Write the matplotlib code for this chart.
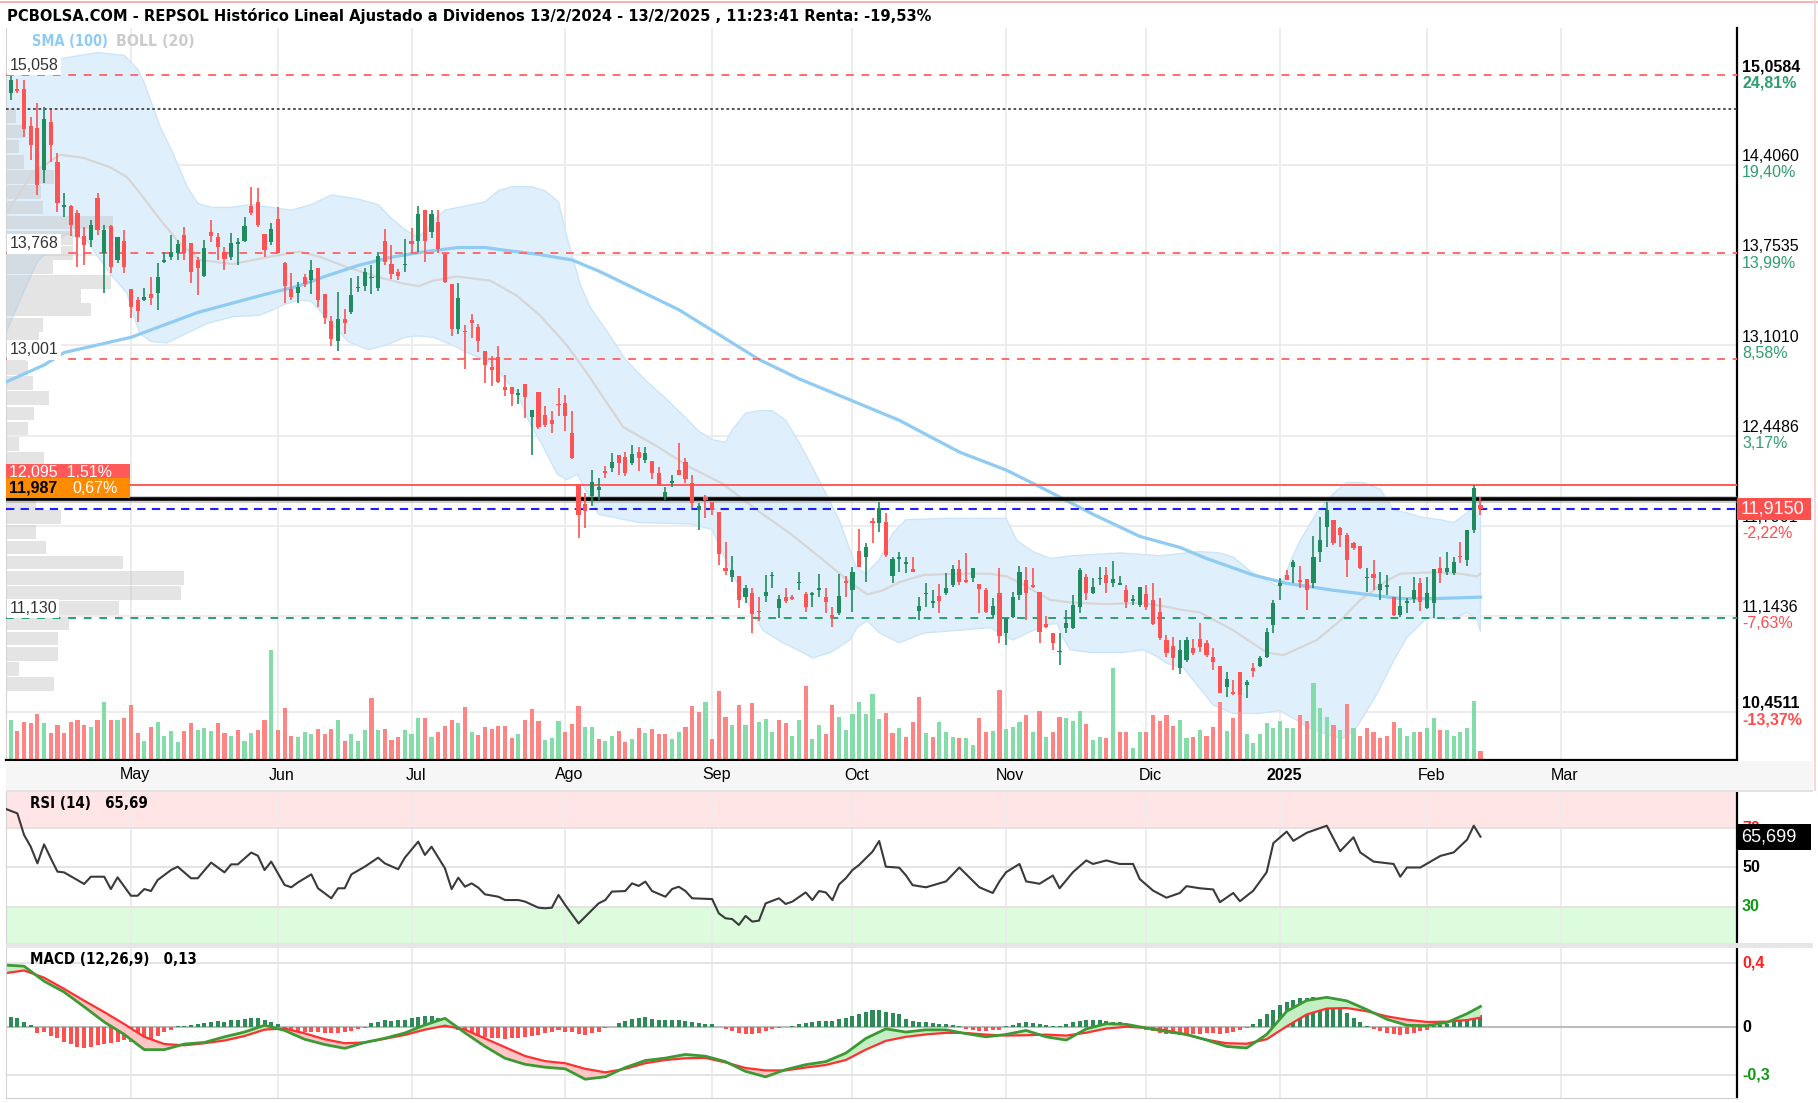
import numpy as np
import pandas as pd
import matplotlib
matplotlib.use("Agg")
import matplotlib.pyplot as plt
from matplotlib.patches import Rectangle
from matplotlib.lines import Line2D
from matplotlib.transforms import blended_transform_factory as blend

# ---------------- DATA ----------------
opens = [14.82, 14.93, 14.96, 14.955, 14.69, 14.672, 14.371, 14.721, 14.431, 14.10,
         14.113, 14.058, 13.894, 13.865, 14.166, 13.768, 13.968, 13.72, 13.857, 13.508,
         13.43, 13.43, 13.471, 13.479, 13.708, 13.739, 13.768, 13.90, 13.845, 13.72,
         13.604, 13.925, 13.889, 13.78, 13.744, 13.836, 13.86, 14.113, 14.137, 13.906,
         13.847, 14.014, 13.696, 13.508, 13.484, 13.593, 13.574, 13.664, 13.476, 13.279,
         13.133, 13.293, 13.344, 13.515, 13.532, 13.588, 13.518, 13.86, 13.692, 13.636,
         13.68, 13.854, 13.854, 14.078, 13.924, 13.994, 13.764, 13.546, 13.223, 13.209,
         13.285, 13.232, 13.063, 12.943, 13.018, 12.802, 12.802, 12.743, 12.822, 12.587,
         12.766, 12.598, 12.564, 12.676, 12.685, 12.466, 12.101, 11.953, 12.01, 12.055,
         12.193, 12.212, 12.309, 12.292, 12.248, 12.333, 12.272, 12.265, 12.176, 12.007,
         12.104, 12.2, 12.258, 12.108, 11.911, 12.007, 11.971, 11.898, 11.488, 11.428,
         11.433, 11.283, 11.308, 11.175, 11.288, 11.43, 11.2, 11.283, 11.283, 11.38,
         11.3, 11.295, 11.33, 11.283, 11.151, 11.163, 11.4, 11.332, 11.614, 11.568,
         11.826, 11.819, 11.826, 11.433, 11.554, 11.52, 11.481, 11.182, 11.3, 11.24,
         11.288, 11.308, 11.368, 11.481, 11.404, 11.416, 11.375, 11.332, 11.151, 11.308,
         11.018, 11.139, 11.296, 11.404, 11.368, 11.32, 11.083, 11.018, 10.88, 11.054,
         11.054, 11.211, 11.423, 11.312, 11.409, 11.44, 11.38, 11.368, 11.332, 11.254,
         11.223, 11.303, 11.259, 11.175, 10.97, 10.926, 10.765, 10.825, 10.914, 10.975,
         10.95, 10.849, 10.782, 10.627, 10.591, 10.74, 10.644, 10.765, 10.782, 10.849,
         11.078, 11.361, 11.44, 11.496, 11.399, 11.409, 11.38, 11.609, 11.79, 11.838,
         11.778, 11.73, 11.669, 11.65, 11.416, 11.45, 11.332, 11.356, 11.283, 11.151,
         11.235, 11.264, 11.385, 11.199, 11.235, 11.488, 11.464, 11.457, 11.578, 11.549,
         11.766, 11.947]
highs = [14.95, 15.05, 15.03, 15.022, 14.757, 14.858, 14.829, 14.805, 14.497, 14.202,
         14.12, 14.082, 13.961, 14.009, 14.202, 13.973, 13.975, 13.889, 13.937, 13.51,
         13.45, 13.515, 13.599, 13.696, 13.78, 13.90, 13.865, 13.961, 13.845, 13.744,
         13.865, 14.009, 13.913, 13.816, 13.913, 13.877, 14.033, 14.25, 14.243, 13.906,
         13.985, 14.106, 13.708, 13.623, 13.56, 13.616, 13.72, 13.664, 13.476, 13.316,
         13.49, 13.363, 13.588, 13.607, 13.658, 13.686, 13.776, 13.944, 13.826, 13.652,
         13.868, 13.952, 14.107, 14.078, 14.078, 14.078, 13.764, 13.546, 13.551, 13.251,
         13.327, 13.26, 13.063, 13.027, 13.097, 12.887, 12.802, 12.789, 12.822, 12.634,
         12.766, 12.662, 12.626, 12.794, 12.746, 12.626, 12.101, 12.031, 12.2, 12.14,
         12.229, 12.321, 12.309, 12.333, 12.381, 12.369, 12.369, 12.265, 12.22, 12.075,
         12.164, 12.398, 12.284, 12.164, 11.959, 12.019, 11.971, 11.898, 11.681, 11.578,
         11.433, 11.368, 11.344, 11.284, 11.44, 11.464, 11.296, 11.344, 11.296, 11.464,
         11.32, 11.32, 11.447, 11.349, 11.206, 11.447, 11.433, 11.5, 11.771, 11.669,
         11.85, 11.971, 11.886, 11.573, 11.609, 11.568, 11.568, 11.283, 11.385, 11.332,
         11.375, 11.452, 11.512, 11.549, 11.597, 11.488, 11.375, 11.344, 11.271, 11.488,
         11.127, 11.32, 11.508, 11.5, 11.488, 11.32, 11.144, 11.018, 11.018, 11.187,
         11.296, 11.488, 11.447, 11.416, 11.5, 11.5, 11.544, 11.433, 11.368, 11.296,
         11.356, 11.368, 11.38, 11.271, 11.006, 10.994, 10.97, 10.994, 10.975, 11.09,
         10.97, 10.91, 10.782, 10.741, 10.68, 10.74, 10.68, 10.801, 10.854, 11.054,
         11.259, 11.416, 11.476, 11.549, 11.505, 11.409, 11.722, 11.862, 11.971, 11.838,
         11.79, 11.742, 11.681, 11.65, 11.489, 11.549, 11.464, 11.44, 11.283, 11.36,
         11.271, 11.428, 11.416, 11.428, 11.481, 11.573, 11.609, 11.573, 11.681, 11.766,
         12.095, 12.007]
lows = [14.80, 14.88, 14.93, 14.61, 14.44, 14.19, 14.275, 14.431, 14.07, 14.033,
        13.894, 13.672, 13.684, 13.816, 13.90, 13.479, 13.623, 13.696, 13.623, 13.298,
        13.274, 13.426, 13.394, 13.358, 13.696, 13.72, 13.72, 13.72, 13.551, 13.467,
        13.599, 13.852, 13.72, 13.648, 13.72, 13.684, 13.852, 14.045, 13.961, 13.744,
        13.828, 13.768, 13.406, 13.43, 13.405, 13.523, 13.476, 13.383, 13.26, 13.097,
        13.063, 13.181, 13.327, 13.49, 13.495, 13.476, 13.495, 13.686, 13.58, 13.574,
        13.63, 13.77, 13.776, 13.708, 13.882, 13.77, 13.551, 13.167, 13.181, 12.929,
        13.153, 13.055, 12.83, 12.81, 12.83, 12.732, 12.662, 12.676, 12.578, 12.312,
        12.494, 12.514, 12.466, 12.592, 12.48, 12.278, 11.709, 11.779, 11.94, 11.983,
        12.14, 12.188, 12.164, 12.157, 12.236, 12.195, 12.248, 12.133, 12.084, 11.983,
        12.075, 12.164, 12.104, 11.923, 11.766, 11.85, 11.874, 11.513, 11.44, 11.392,
        11.199, 11.235, 11.018, 11.11, 11.247, 11.344, 11.127, 11.235, 11.259, 11.332,
        11.175, 11.206, 11.283, 11.163, 11.066, 11.151, 11.283, 11.175, 11.5, 11.392,
        11.669, 11.754, 11.573, 11.38, 11.464, 11.452, 11.464, 11.115, 11.211, 11.2,
        11.163, 11.296, 11.356, 11.368, 11.385, 11.392, 11.163, 11.163, 11.127, 10.946,
        10.934, 11.127, 11.259, 11.115, 11.344, 10.946, 11.054, 10.898, 10.789, 11.018,
        11.047, 11.168, 11.259, 11.303, 11.368, 11.312, 11.356, 11.368, 11.199, 11.223,
        11.211, 11.187, 11.078, 10.97, 10.849, 10.753, 10.724, 10.813, 10.861, 10.886,
        10.849, 10.753, 10.584, 10.56, 10.572, 10.451, 10.548, 10.704, 10.777, 10.837,
        11.018, 11.259, 11.404, 11.38, 11.344, 11.187, 11.344, 11.537, 11.645, 11.657,
        11.645, 11.428, 11.621, 11.481, 11.32, 11.332, 11.259, 11.296, 11.144, 11.134,
        11.168, 11.24, 11.182, 11.192, 11.127, 11.38, 11.44, 11.44, 11.525, 11.505,
        11.742, 11.874]
closes = [14.94, 15.02, 14.94, 14.67, 14.552, 14.263, 14.738, 14.552, 14.13, 14.118,
          13.973, 13.889, 13.828, 13.973, 13.937, 13.937, 13.672, 13.889, 13.667, 13.377,
          13.353, 13.45, 13.442, 13.599, 13.72, 13.775, 13.833, 13.768, 13.636, 13.66,
          13.804, 13.896, 13.816, 13.727, 13.845, 13.84, 13.968, 14.062, 13.973, 13.792,
          13.942, 13.773, 13.534, 13.454, 13.523, 13.546, 13.644, 13.428, 13.299, 13.147,
          13.293, 13.265, 13.467, 13.526, 13.63, 13.60, 13.748, 13.708, 13.616, 13.602,
          13.69, 13.832, 14.05, 13.854, 14.05, 13.798, 13.56, 13.223, 13.447, 13.195,
          13.265, 13.133, 12.962, 12.923, 12.839, 12.78, 12.752, 12.754, 12.727, 12.634,
          12.508, 12.528, 12.53, 12.668, 12.592, 12.284, 11.877, 11.905, 12.11, 12.079,
          12.176, 12.256, 12.248, 12.176, 12.313, 12.284, 12.325, 12.181, 12.084, 12.043,
          12.123, 12.164, 12.133, 11.959, 11.94, 11.983, 11.911, 11.592, 11.472, 11.476,
          11.259, 11.344, 11.158, 11.17, 11.32, 11.44, 11.264, 11.254, 11.264, 11.39,
          11.211, 11.308, 11.35, 11.242, 11.134, 11.288, 11.38, 11.464, 11.5, 11.645,
          11.819, 11.923, 11.585, 11.554, 11.568, 11.537, 11.464, 11.216, 11.31, 11.255,
          11.255, 11.344, 11.481, 11.392, 11.392, 11.488, 11.337, 11.175, 11.216, 10.999,
          11.127, 11.279, 11.464, 11.312, 11.351, 11.03, 11.066, 10.951, 10.89, 11.095,
          11.223, 11.476, 11.312, 11.356, 11.416, 11.38, 11.409, 11.38, 11.247, 11.264,
          11.356, 11.211, 11.086, 10.982, 10.878, 10.837, 10.898, 10.97, 10.878, 10.922,
          10.861, 10.813, 10.589, 10.685, 10.579, 10.57, 10.668, 10.748, 10.837, 11.03,
          11.24, 11.385, 11.404, 11.536, 11.392, 11.332, 11.568, 11.693, 11.91, 11.669,
          11.73, 11.549, 11.633, 11.489, 11.428, 11.42, 11.375, 11.368, 11.151, 11.216,
          11.254, 11.332, 11.247, 11.308, 11.481, 11.452, 11.488, 11.537, 11.568, 11.766,
          12.067, 11.915]
volume = [3.5, 4.0, 2.9, 3.8, 3.7, 4.6, 3.7, 2.7, 3.5, 2.7,
          3.8, 4.0, 3.5, 3.3, 4.0, 5.8, 4.0, 4.0, 4.2, 5.5,
          2.7, 1.9, 3.3, 3.8, 2.4, 2.9, 1.8, 2.9, 3.7, 3.0,
          3.2, 2.9, 3.7, 2.7, 2.4, 3.0, 1.9, 2.7, 3.0, 4.0,
          11.0, 3.0, 5.2, 2.4, 2.3, 2.8, 2.6, 3.1, 2.6, 3.1,
          4.0, 1.9, 2.6, 1.9, 3.0, 6.2, 3.0, 3.1, 2.0, 2.3,
          3.0, 2.6, 4.2, 4.2, 2.3, 2.8, 3.4, 4.0, 3.7, 5.3,
          2.8, 2.5, 3.3, 3.1, 3.4, 3.4, 2.2, 2.6, 4.0, 5.1,
          3.9, 2.0, 2.2, 3.9, 2.8, 3.6, 5.4, 3.3, 3.3, 2.1,
          1.9, 2.4, 2.9, 1.8, 2.1, 3.2, 2.7, 3.1, 2.6, 2.6,
          2.1, 2.8, 3.3, 5.4, 4.8, 5.8, 2.1, 6.9, 4.3, 3.5,
          5.5, 3.5, 5.7, 3.8, 4.1, 2.8, 4.0, 3.7, 2.4, 4.0,
          7.4, 2.1, 3.5, 2.6, 5.5, 4.3, 3.0, 4.6, 5.8, 4.6,
          6.6, 4.1, 4.7, 2.7, 3.2, 2.3, 3.8, 6.3, 2.7, 2.3,
          3.8, 2.8, 2.3, 2.2, 2.2, 1.5, 4.2, 2.8, 2.9, 7.0,
          3.1, 3.3, 3.8, 4.5, 2.8, 4.9, 2.3, 2.8, 4.3, 4.2,
          3.9, 4.9, 3.6, 2.0, 2.3, 2.2, 9.2, 2.8, 2.8, 1.2,
          2.8, 2.8, 4.5, 3.9, 4.5, 3.4, 4.0, 2.2, 2.3, 3.0,
          2.4, 3.3, 5.8, 2.9, 4.2, 8.7, 2.6, 1.7, 2.6, 3.7,
          3.2, 3.9, 3.2, 3.2, 4.5, 3.9, 7.7, 5.2, 4.3, 3.5,
          3.0, 5.6, 3.2, 2.4, 3.2, 2.8, 2.2, 2.4, 3.8, 3.2,
          2.4, 2.8, 2.8, 3.2, 4.2, 3.0, 3.0, 2.4, 2.8, 3.2,
          5.9, 0.9]
macd_hist = [0.060, 0.067, 0.056, 0.031, 0.015, -0.038, -0.031, -0.052, -0.069, -0.090,
             -0.106, -0.121, -0.127, -0.123, -0.110, -0.106, -0.100, -0.090, -0.079, -0.094,
             -0.094, -0.085, -0.075, -0.052, -0.031, -0.017, 0.010, 0.010, 0.015, 0.021,
             0.025, 0.035, 0.040, 0.035, 0.044, 0.044, 0.052, 0.060, 0.056, 0.046,
             0.031, 0.019, -0.006, -0.017, -0.021, -0.027, -0.031, -0.031, -0.038, -0.038,
             -0.038, -0.031, -0.023, -0.013, -0.002, 0.025, 0.031, 0.044, 0.040, 0.044,
             0.046, 0.056, 0.067, 0.073, 0.073, 0.056, 0.031, 0.004, -0.017, -0.027,
             -0.038, -0.048, -0.058, -0.065, -0.069, -0.073, -0.069, -0.065, -0.058, -0.052,
             -0.048, -0.038, -0.031, -0.017, -0.027, -0.031, -0.044, -0.048, -0.038, -0.027,
             -0.006, 0.002, 0.025, 0.040, 0.052, 0.060, 0.062, 0.050, 0.044, 0.044,
             0.044, 0.046, 0.040, 0.031, 0.025, 0.019, 0.019, 0.002, -0.013, -0.021,
             -0.038, -0.044, -0.044, -0.038, -0.023, -0.013, -0.006, 0.002, 0.010, 0.019,
             0.025, 0.031, 0.040, 0.040, 0.040, 0.052, 0.060, 0.073, 0.081, 0.094,
             0.106, 0.108, 0.094, 0.088, 0.081, 0.05, 0.04, 0.035, 0.03, 0.025,
             0.02, 0.02, 0.015, 0.01, -0.01, -0.02, -0.025, -0.025, -0.02, -0.015,
             0.005, 0.015, 0.025, 0.03, 0.025, 0.02, 0.015, 0.01, 0.01, 0.02,
             0.03, 0.04, 0.045, 0.045, 0.045, 0.04, 0.035, 0.03, 0.02, 0.01,
             -0.005, -0.015, -0.025, -0.035, -0.04, -0.045, -0.05, -0.05, -0.045, -0.04,
             -0.035, -0.035, -0.04, -0.035, -0.03, -0.02, -0.005, 0.02, 0.05, 0.08,
             0.11, 0.14, 0.16, 0.17, 0.18, 0.185, 0.19, 0.18, 0.165, 0.14,
             0.12, 0.09, 0.06, 0.035, 0.01, -0.01, -0.025, -0.035, -0.045, -0.05,
             -0.045, -0.035, -0.025, -0.015, 0.005, 0.015, 0.02, 0.03, 0.04, 0.05,
             0.065, 0.075]

# indicator lines (candle index, value); index -1 = 4 Apr 2024
sma100_k = [-1, 5, 8, 18, 28, 38, 43, 47, 52, 57, 62, 67, 71, 74, 79, 84, 88, 94, 100, 106,
            112, 118, 126, 133, 142, 149, 154, 162, 169, 175, 179, 186, 191, 198, 203, 208, 213, 220]
sma100_v = [12.83, 12.96, 13.05, 13.16, 13.34, 13.47, 13.53, 13.60, 13.68, 13.74, 13.78, 13.81,
            13.81, 13.79, 13.76, 13.72, 13.64, 13.50, 13.36, 13.18, 13.00, 12.86, 12.70, 12.56,
            12.33, 12.20, 12.08, 11.88, 11.72, 11.64, 11.56, 11.44, 11.38, 11.33, 11.30, 11.27,
            11.27, 11.28]
bb_up_k = [-1, 3, 8, 13, 17, 19, 20, 22.4, 24.3, 26.4, 28, 30, 33, 36, 39, 42, 45, 48, 52, 55,
           57, 59, 61, 63, 65, 68, 71, 73, 75, 78, 80, 82, 83.3, 85.2, 86.7, 88, 90, 92, 95, 98,
           101, 103, 105, 107, 108, 110, 112, 114, 116, 118, 120, 122, 124, 125.5, 126.5, 128,
           130, 132, 134, 140, 149, 150.6, 153, 155.6, 159, 166, 172, 178, 181, 183, 185.5, 188,
           190, 191.5, 193, 195.5, 198, 200, 202.5, 205, 207, 209, 211, 214, 216, 218, 219.5, 220]
bb_up_v = [15.05, 15.12, 15.18, 15.22, 15.2, 15.1, 15.0, 14.68, 14.49, 14.25, 14.13, 14.10,
           14.10, 14.12, 14.10, 14.08, 14.12, 14.19, 14.16, 14.12, 14.02, 13.94, 13.88, 13.99,
           14.08, 14.11, 14.14, 14.22, 14.25, 14.25, 14.22, 14.14, 13.88, 13.55, 13.38, 13.29,
           13.15, 13.0, 12.85, 12.72, 12.58, 12.48, 12.42, 12.40, 12.49, 12.61, 12.63, 12.63,
           12.56, 12.40, 12.22, 12.03, 11.84, 11.64, 11.50, 11.45, 11.55, 11.74, 11.84, 11.85,
           11.85, 11.69, 11.61, 11.56, 11.58, 11.60, 11.58, 11.61, 11.60, 11.57, 11.47, 11.40,
           11.35, 11.53, 11.69, 11.89, 12.03, 12.11, 12.11, 12.06, 11.91, 11.89, 11.86, 11.84,
           11.82, 11.89, 11.98, 12.0]
bb_lo_k = [-1, 1.4, 3.9, 5.9, 8.4, 11.4, 14.9, 17.4, 18.3, 19.3, 21, 23.4, 26.4, 29.4, 33.3,
           37.3, 39.3, 41, 43.3, 45, 48, 50.5, 53.5, 56, 59, 61, 63.3, 66.3, 68.3, 71.8, 75.8,
           77.7, 79.7, 81.8, 83.3, 84.8, 86.7, 88, 94, 101.7, 105, 108, 110.7, 112.6, 115.6,
           118.6, 120, 122.7, 125.6, 126.7, 128.2, 130.1, 133, 136.6, 141.7, 146.6, 148.1, 150,
           152.6, 155.1, 156.6, 157.5, 158.6, 161.6, 166.5, 169.5, 171.6, 173.1, 175.5, 178,
           180, 183, 187, 190, 192.5, 194, 198, 199.5, 201.5, 204.5, 207, 209, 212, 215.5, 218,
           219.5, 220]
bb_lo_v = [13.16, 13.43, 13.70, 13.81, 13.91, 13.86, 13.62, 13.48, 13.34, 13.19, 13.13, 13.12,
           13.19, 13.26, 13.31, 13.32, 13.36, 13.40, 13.43, 13.42, 13.26, 13.13, 13.07, 13.10,
           13.16, 13.17, 13.16, 13.10, 13.05, 12.98, 12.76, 12.54, 12.37, 12.17, 12.13, 12.17,
           12.00, 11.88, 11.82, 11.81, 11.77, 11.45, 11.21, 11.04, 10.95, 10.88, 10.84, 10.88,
           10.97, 11.06, 11.11, 11.02, 10.95, 11.02, 11.04, 11.06, 11.02, 10.97, 11.03, 11.08,
           11.09, 10.99, 10.90, 10.88, 10.88, 10.90, 10.85, 10.80, 10.77, 10.62, 10.50, 10.44,
           10.44, 10.46, 10.39, 10.34, 10.27, 10.26, 10.34, 10.58, 10.82, 10.99, 11.13, 11.12,
           11.17, 11.12, 11.03]
bb_mid_k = [-1, 3.3, 7.4, 10.8, 14.9, 17.4, 19.4, 22.4, 25.3, 28.3, 33.3, 38.4, 43.3, 46.4,
            50.2, 54.7, 58.7, 61.1, 63.2, 66.8, 71.8, 75.8, 79.2, 83.3, 86.7, 88.2, 91.7, 96.8,
            101.7, 106.6, 111.7, 116.7, 121.6, 125.6, 128.2, 130.6, 133.1, 136.6, 141.7, 146.6,
            149.1, 151.6, 155.6, 159, 164.1, 169.1, 173.1, 175, 178, 183, 188, 190.5, 195.5, 199,
            202, 206, 208, 213, 217, 219.5, 220]
bb_mid_v = [14.03, 14.35, 14.48, 14.46, 14.39, 14.32, 14.20, 14.01, 13.84, 13.72, 13.69, 13.74,
            13.78, 13.74, 13.67, 13.60, 13.55, 13.53, 13.57, 13.60, 13.57, 13.46, 13.32, 13.10,
            12.87, 12.76, 12.51, 12.37, 12.22, 12.10, 11.91, 11.74, 11.55, 11.39, 11.30, 11.33,
            11.39, 11.44, 11.45, 11.45, 11.43, 11.37, 11.26, 11.24, 11.23, 11.24, 11.21, 11.19,
            11.17, 11.04, 10.88, 10.86, 10.97, 11.11, 11.26, 11.40, 11.45, 11.46, 11.45, 11.43,
            11.45]
rsi_k = [-1, 1, 2, 3, 4, 5, 6, 7, 8, 10, 11, 12, 14, 15, 16, 18, 19, 20, 21, 22, 24, 25, 27, 28,
         30, 32, 33, 34, 36, 37, 38, 39, 41, 42, 43, 45, 46, 48, 49, 50, 51, 53, 55, 56, 58, 59,
         61, 62, 63, 65, 66, 67, 68, 69, 70, 71, 73, 74, 76, 77, 79, 80, 81, 82, 83, 85, 86, 88,
         89, 90, 92, 93, 94, 95, 96, 98, 99, 100, 101, 102, 105, 106, 107, 108, 109, 110, 111,
         112, 113, 115, 116, 117, 119, 120, 121, 122, 123, 124, 125, 126, 127, 129, 130, 131,
         133, 134, 135, 137, 140, 142, 145, 147, 148, 149, 151, 152, 154, 156, 157, 159, 161,
         162, 164, 166, 168, 169, 171, 173, 175, 176, 178, 180, 181, 183, 184, 186, 188, 189,
         191, 192, 194, 197, 199, 201, 202, 204, 207, 208, 209, 211, 214, 216, 218, 219, 220]
rsi_v = [80.2, 77.6, 66.6, 60.6, 52.1, 61.8, 54.7, 47.9, 47.5, 43.6, 41.6, 45.3, 45.3, 39.0,
         45.0, 35.6, 35.6, 39.0, 38.0, 43.6, 48.7, 50.4, 44.5, 44.5, 52.5, 47.5, 51.6, 51.6,
         57.6, 56.0, 48.7, 53.0, 41.1, 39.9, 42.4, 46.5, 39.4, 34.3, 39.4, 39.4, 46.5, 50.4,
         55.0, 52.1, 49.1, 55.0, 63.2, 56.4, 60.6, 49.6, 39.0, 44.8, 40.2, 41.9, 39.7, 36.3,
         35.1, 33.4, 33.4, 32.6, 29.5, 29.2, 29.5, 36.0, 30.9, 21.5, 24.9, 31.7, 33.4, 37.7,
         38.0, 41.9, 40.6, 42.8, 38.0, 35.1, 39.0, 40.2, 38.0, 34.3, 33.9, 26.6, 24.1, 23.7,
         20.7, 25.3, 22.4, 22.9, 31.7, 34.3, 31.4, 32.6, 37.3, 33.4, 38.0, 37.3, 33.4, 41.4,
         44.5, 48.7, 51.3, 58.1, 63.5, 50.4, 49.9, 46.0, 41.0, 39.9, 42.9, 50.0, 39.9, 37.0,
         42.9, 47.6, 51.8, 42.9, 41.7, 45.9, 39.4, 47.6, 53.6, 51.8, 53.6, 51.8, 51.8, 44.1,
         38.2, 34.6, 37.0, 40.5, 39.4, 38.8, 32.3, 37.0, 32.8, 38.2, 47.6, 62.4, 68.3, 63.6,
         67.7, 71.3, 58.3, 65.4, 57.7, 53.0, 51.8, 45.3, 50.0, 50.0, 55.9, 57.7, 64.2, 71.3,
         65.7]
macd_k = [-1, 2, 5, 8, 11, 14, 17, 20, 23, 26, 29, 32, 35, 38, 41, 44, 47, 50, 53, 56, 59, 62,
          65, 68, 71, 74, 77, 80, 83, 86, 89, 92, 95, 98, 101, 104, 107, 110, 113, 116, 119,
          122, 125, 128, 131, 134, 137, 140, 143, 146, 149, 152, 155, 158, 161, 164, 167, 170,
          173, 176, 179, 182, 185, 188, 191, 194, 197, 200, 203, 206, 209, 212, 215, 218, 220]
macd_v = [0.389, 0.382, 0.288, 0.22, 0.128, 0.033, -0.045, -0.14, -0.14, -0.105,
          -0.095, -0.06, -0.03, 0.012, -0.02, -0.075, -0.108, -0.132, -0.095, -0.069,
          -0.036, 0.014, 0.056, -0.035, -0.12, -0.194, -0.232, -0.25, -0.26, -0.325,
          -0.31, -0.252, -0.208, -0.193, -0.17, -0.181, -0.215, -0.276, -0.31, -0.265,
          -0.234, -0.215, -0.162, -0.07, -0.01, -0.03, -0.016, -0.016, -0.04, -0.06,
          -0.045, -0.02, -0.06, -0.08, -0.01, 0.022, 0.018, -0.005, -0.027, -0.045,
          -0.08, -0.12, -0.13, -0.045, 0.10, 0.168, 0.187, 0.165, 0.11, 0.05,
          0.012, 0.01, 0.03, 0.085, 0.13]
macd_sig = [0.337, 0.355, 0.31, 0.24, 0.166, 0.095, 0.02, -0.06, -0.105, -0.113,
            -0.10, -0.083, -0.055, -0.015, -0.008, -0.038, -0.075, -0.10, -0.095, -0.072,
            -0.048, -0.015, 0.01, -0.015, -0.07, -0.125, -0.18, -0.212, -0.225, -0.26,
            -0.282, -0.26, -0.225, -0.205, -0.194, -0.192, -0.22, -0.255, -0.27, -0.27,
            -0.252, -0.236, -0.205, -0.14, -0.085, -0.06, -0.045, -0.035, -0.036, -0.046,
            -0.052, -0.05, -0.046, -0.052, -0.034, -0.008, 0.003, -0.004, -0.02, -0.047,
            -0.078, -0.1, -0.103, -0.075, 0.006, 0.08, 0.117, 0.12, 0.10, 0.068,
            0.047, 0.033, 0.035, 0.045, 0.06]
# volume-at-price profile (price bin centre, bar length)
prof_price = [14.76, 14.65, 14.54, 14.43, 14.32, 14.21, 14.10, 13.99, 13.88, 13.77, 13.67,
              13.56, 13.46, 13.36, 13.25, 13.15, 13.04, 12.94, 12.83, 12.72, 12.61, 12.50,
              12.39, 12.28, 12.18, 12.07, 11.96, 11.86, 11.75, 11.64, 11.53, 11.42, 11.31,
              11.20, 11.09, 10.98, 10.87, 10.76, 10.65]
prof_len = [10, 18, 13, 18, 48, 35, 37, 107, 67, 67, 47, 105, 75, 85, 37, 33, 20, 22, 27, 43,
            28, 22, 13, 38, 30, 30, 30, 55, 30, 40, 117, 178, 175, 113, 63, 52, 52, 13, 48]
# horizontal levels
red_levels = [15.058, 13.768, 13.001]
green_level = 11.130
black_dotted = 14.81
res_level, res_pct = 12.095, 1.51
avg_level, avg_pct = 11.987, 0.67
last_price = 11.915
right_prices = [15.0584, 14.4060, 13.7535, 13.1010, 12.4486, 11.7961, 11.1436, 10.4511]
right_pcts = [24.81, 19.40, 13.99, 8.58, 3.17, -2.22, -7.63, -13.37]
rsi_last, rsi_title_value = 65.699, "65,69"
macd_title_value = "0,13"
month_names = {5: "May", 6: "Jun", 7: "Jul", 8: "Ago", 9: "Sep", 10: "Oct", 11: "Nov",
               12: "Dic", 1: "2025", 2: "Feb", 3: "Mar"}
holidays = ["2024-05-01", "2024-12-25", "2024-12-26", "2025-01-01"]
title = ("PCBOLSA.COM - REPSOL Histórico Lineal Ajustado a Dividenos 13/2/2024 - 13/2/2025 , "
         "11:23:41 Renta: -19,53%")

# ---------------- STYLE ----------------
W, H = 1818, 1103
GREEN, RED = "#1f8b5e", "#ff5252"
VGREEN, VRED = "#84dca8", "#ff8585"
GRID = "#ececec"
NUM = "Liberation Sans"
plt.rcParams["font.family"] = ["Liberation Sans", "DejaVu Sans"]

fig = plt.figure(figsize=(W / 100, H / 100), dpi=100)
fig.patch.set_facecolor("white")


def frect(x0, y0, x1, y1):
    return [x0 / W, 1 - y1 / H, (x1 - x0) / W, (y1 - y0) / H]


ax = fig.add_axes(frect(6, 28, 1737, 760))
axr = fig.add_axes(frect(6, 791, 1737, 943))
axm = fig.add_axes(frect(6, 948, 1737, 1098))
XLIM = (-0.7, 258.4)
YLIM = (10.102, 15.398)
RLIM = (11.5, 89.0)
MLIM = (-0.4425, 0.4956)

# trading calendar -> month gridlines
days = pd.bdate_range("2024-04-04", "2025-03-31")
days = days[~days.isin(pd.to_datetime(holidays))]
pos = np.arange(len(days)) - 1
month_pos, month_lab = [], []
for (yy, mm), grp in pd.Series(pos, index=days).groupby([days.year, days.month]):
    if mm in month_names and not (yy == 2024 and mm == 3):
        month_pos.append(grp.iloc[0])
        month_lab.append(month_names[mm])

for a in (ax, axr, axm):
    a.set_xlim(*XLIM)
    a.set_xticks([])
    a.set_yticks([])
    a.spines["top"].set_visible(False)
    a.spines["left"].set_color("#d4d4d4")
    a.spines["right"].set_color("black")
    a.spines["right"].set_linewidth(1.6)
    a.spines["bottom"].set_color("#cfcfcf")
    for mp in month_pos:
        a.axvline(mp, color=GRID, lw=1.3, zorder=0.2)
ax.spines["bottom"].set_color("black")
ax.spines["bottom"].set_linewidth(1.6)

# ---------------- MAIN PANEL ----------------
ax.set_ylim(*YLIM)
o, h, l, c = (np.array(v, float) for v in (opens, highs, lows, closes))
x = np.arange(len(c)) - 1

for v in right_prices[1:]:
    ax.axhline(v, color=GRID, lw=1.3, zorder=0.3)

# bollinger band area
ax.fill(np.r_[bb_up_k, bb_lo_k[::-1]], np.r_[bb_up_v, bb_lo_v[::-1]],
        fc="#dff0fc", ec="#cde5f8", lw=1.0, zorder=1)
# volume profile (bar lengths are pixels of the 1731 px wide panel)
span = XLIM[1] - XLIM[0]
ax.barh(prof_price, np.array(prof_len) / 1731.0 * span, height=0.098, left=XLIM[0],
        color="#c4c4c4", alpha=0.45, lw=0, zorder=1.5)
ax.plot(bb_mid_k, bb_mid_v, color="#d6d6d6", lw=1.6, zorder=2)
ax.plot(sma100_k, sma100_v, color="#8fcbf3", lw=2.3, zorder=3)

# volume bars at the bottom (73.2 volume units = full panel height)
vol = np.array(volume)
vup = np.r_[True, c[1:] >= c[:-1]]
ax.bar(x, vol / 73.2 * (YLIM[1] - YLIM[0]), bottom=YLIM[0], width=0.62,
       color=np.where(vup, VGREEN, VRED), lw=0, zorder=2.5)

# level lines
for lv in red_levels:
    ax.axhline(lv, color="#ff6b6b", lw=1.4, ls=(0, (4, 4)), zorder=3.5)
ax.axhline(black_dotted, color="#444444", lw=1.3, ls=(0, (1.5, 1.5)), zorder=3.5)
ax.axhline(res_level, color="#ff5a5a", lw=1.4, zorder=3.5)
ax.axhline(avg_level, color="#9a9a9a", lw=5.0, alpha=0.5, zorder=3.5)
ax.axhline(avg_level, color="black", lw=2.6, zorder=3.6)
ax.axhline(last_price, color="#2020ff", lw=1.5, ls=(0, (4, 3)), zorder=3.6)
ax.axhline(green_level, color="#2e9e6e", lw=1.4, ls=(0, (4, 4)), zorder=3.5)

# candles
up = c >= o
ccol = np.where(up, GREEN, RED)
ax.vlines(x, l, h, colors=ccol, lw=1.2, zorder=5)
ax.bar(x, np.maximum(np.abs(c - o), 0.012), bottom=np.minimum(o, c), width=0.62,
       color=ccol, lw=0, zorder=6)

ax.set_xlim(*XLIM)
ax.set_ylim(*YLIM)

tr_left = blend(ax.transAxes, ax.transData)
for lv in red_levels + [green_level]:
    ax.annotate(f"{lv:.3f}".replace(".", ","), xy=(0, lv), xycoords=tr_left,
                xytext=(2.5, 6.8), textcoords="offset points", ha="left", va="center",
                fontsize=11.5, color="#333333", family=NUM, zorder=7,
                bbox=dict(boxstyle="square,pad=0.15", fc="white", ec="none"))


def ypx(v):
    return 28 + (YLIM[1] - v) / (YLIM[1] - YLIM[0]) * 732


def fig_box(x0, y0, x1, y1, color, z=20):
    fig.add_artist(Rectangle((x0 / W, 1 - y1 / H), (x1 - x0) / W, (y1 - y0) / H,
                             transform=fig.transFigure, fc=color, ec="none", zorder=z))


# resistance / average labels (boxes sitting on their lines)
yr = ypx(res_level)
fig_box(6, yr - 21, 130, yr - 3, "#ff5a5a", 20)
fig.text(9 / W, 1 - (yr - 12) / H, f"{res_level:.3f}".replace(".", ",") + "  "
         + f"{res_pct:.2f}%".replace(".", ","), color="white", fontsize=11.5, family=NUM,
         va="center", ha="left", zorder=21)
ya = ypx(avg_level)
fig_box(6, ya - 21, 130, ya - 1, "#ff8c00", 22)
fig.text(9 / W, 1 - (ya - 11) / H, f"{avg_level:.3f}".replace(".", ","), color="black",
         fontsize=11.5, family=NUM, fontweight="bold", va="center", ha="left", zorder=23)
fig.text(72 / W, 1 - (ya - 11) / H, f"{avg_pct:.2f}%".replace(".", ","), color="white",
         fontsize=11.5, family=NUM, va="center", ha="left", zorder=23)

# right axis labels
tr_right = blend(ax.transAxes, ax.transData)
nR = len(right_prices)
for i, (pv, pc) in enumerate(zip(right_prices, right_pcts)):
    bold = "bold" if i in (0, nR - 1) else "normal"
    ax.annotate(f"{pv:.4f}".replace(".", ","), xy=(1, pv), xycoords=tr_right,
                xytext=(3.6, 6.0), textcoords="offset points", ha="left", va="center",
                fontsize=11.5, color="black", family=NUM, fontweight=bold,
                annotation_clip=False)
    ax.annotate(f"{pc:.2f}%".replace(".", ","), xy=(1, pv), xycoords=tr_right,
                xytext=(3.6, -5.6), textcoords="offset points", ha="left", va="center",
                fontsize=11.5, color="#2e9e6e" if pc > 0 else "#ff4d4d", family=NUM,
                fontweight=bold, annotation_clip=False)
yl = ypx(last_price)
fig_box(1737, yl - 11, 1811, yl + 11, "#ff5050", 30)
fig.text(1741 / W, 1 - yl / H, f"{last_price:.4f}".replace(".", ","), color="white",
         fontsize=13, family=NUM, va="center", ha="left", zorder=31)

# ---------------- DATE STRIP ----------------
fig_box(6, 761, 1813, 790, "#f6f6f6", 0.5)
fig_box(6, 790, 1813, 792, "#e2e2e2", 0.5)
fig_box(6, 943, 1813, 948, "#e6e6e6", 0.5)
for mp, lab in zip(month_pos, month_lab):
    xpx = 6 + (mp - XLIM[0]) / span * 1731 + 4
    if xpx < 1730:
        fig.text(xpx / W, 1 - 775 / H, lab, ha="center", va="center", fontsize=11.5,
                 family=NUM, fontweight="bold" if lab == "2025" else "normal")

# ---------------- RSI ----------------
axr.set_ylim(*RLIM)
axr.axhspan(70, RLIM[1], color="#ffe5e5", zorder=0.1, lw=0)
axr.axhspan(RLIM[0], 30, color="#ddfbdd", zorder=0.1, lw=0)
for lv in (70, 50, 30):
    axr.axhline(lv, color="#e2e2e2", lw=1.3, zorder=0.3)
axr.plot(rsi_k, rsi_v, color="#3a3a3a", lw=1.5, zorder=3)
axr.set_ylim(*RLIM)
tr_r = blend(axr.transAxes, axr.transData)
for lv, col in ((70, "#ff2020"), (50, "black"), (30, "#119911")):
    axr.annotate(str(lv), xy=(1, lv), xycoords=tr_r, xytext=(3.6, 0), textcoords="offset points",
                 ha="left", va="center", fontsize=11.5, fontweight="bold", color=col,
                 family=NUM, annotation_clip=False)
y_r = 791 + (RLIM[1] - rsi_last) / (RLIM[1] - RLIM[0]) * 152
fig_box(1737, y_r - 13, 1811, y_r + 13, "black", 30)
fig.text(1741 / W, 1 - y_r / H, f"{rsi_last:.3f}".replace(".", ","), color="white",
         fontsize=13, family=NUM, va="center", ha="left", zorder=31)

# ---------------- MACD ----------------
axm.set_ylim(*MLIM)
for lv in (0.4, -0.3):
    axm.axhline(lv, color="#e2e2e2", lw=1.3, zorder=0.3)
axm.axhline(0, color="#bdbdbd", lw=1.5, zorder=0.4)
hv = np.array(macd_hist)
axm.bar(x, hv, width=0.6, color=np.where(hv >= 0, "#2e8b57", "#ff5050"), lw=0, zorder=1)
mk, mv, ms = np.array(macd_k, float), np.array(macd_v), np.array(macd_sig)
axm.fill_between(mk, mv, ms, where=mv >= ms, interpolate=True, color="#c4efc4", lw=0, zorder=1.5)
axm.fill_between(mk, mv, ms, where=mv < ms, interpolate=True, color="#ffc6c6", lw=0, zorder=1.5)
axm.plot(mk, ms, color="#ff3030", lw=1.6, zorder=2)
axm.plot(mk, mv, color="#3c9a34", lw=2.0, zorder=2.1)
axm.set_ylim(*MLIM)
tr_m = blend(axm.transAxes, axm.transData)
for lv, txt, col in ((0.4, "0,4", "#ff2020"), (0, "0", "black"), (-0.3, "-0,3", "#119911")):
    axm.annotate(txt, xy=(1, lv), xycoords=tr_m, xytext=(3.6, 0), textcoords="offset points",
                 ha="left", va="center", fontsize=11.5, fontweight="bold", color=col,
                 family=NUM, annotation_clip=False)

# ---------------- TITLES / LEGENDS ----------------
cond = dict(family="DejaVu Sans", fontstretch="condensed", fontweight="bold")
fig.canvas.draw()
rend = fig.canvas.get_renderer()


def fit(t, target):
    w = t.get_window_extent(rend).width
    t.set_fontsize(t.get_fontsize() * target / w)


fig.add_artist(Line2D([0, 1], [1 - 1.5 / H, 1 - 1.5 / H], transform=fig.transFigure,
                      color="#f3b5b5", lw=1.5))
fig.add_artist(Line2D([1814.5 / W, 1814.5 / W], [1 - 790 / H, 1], transform=fig.transFigure,
                      color="#f3d0d0", lw=1.2))
tt = fig.text(7 / W, 1 - 16 / H, title, ha="left", va="center", fontsize=12, **cond)
fit(tt, 921)
t1 = fig.text(32 / W, 1 - 42 / H, "SMA (100)", ha="left", va="center", fontsize=11,
              color="#8fcbf3", **cond)
fit(t1, 76)
t2 = fig.text(116 / W, 1 - 42 / H, "BOLL (20)", ha="left", va="center", fontsize=11,
              color="#cccccc", **cond)
fit(t2, 79)
t3 = fig.text(30 / W, 1 - 804 / H, "RSI (14)   " + rsi_title_value,
              ha="left", va="center", fontsize=11, color="black", **cond)
fit(t3, 118)
t4 = fig.text(30 / W, 1 - 959 / H, "MACD (12,26,9)   " + macd_title_value,
              ha="left", va="center", fontsize=11, color="black", **cond)
fit(t4, 167)

fig.savefig("out.png", dpi=100, facecolor="white")
